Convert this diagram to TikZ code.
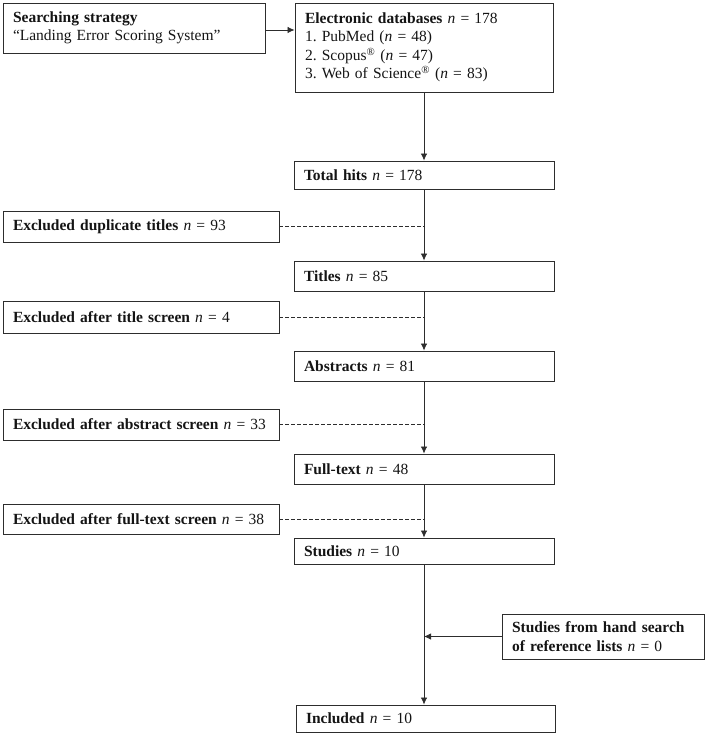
\documentclass[tikz,border=0pt]{standalone}
\usepackage{fontspec}
\setmainfont{Liberation Serif}
\frenchspacing
\usetikzlibrary{arrows.meta}
\definecolor{linecol}{RGB}{45,45,45}
\definecolor{txtcol}{RGB}{20,20,20}
\begin{document}
\begin{tikzpicture}[x=1pt,y=-1pt,
  box/.style={draw=linecol, line width=0.9pt, inner xsep=10pt, inner ysep=0pt,
    align=left, font=\fontsize{15.5}{18.5}\selectfont\frenchspacing, text=txtcol, anchor=center},
  mainbox/.style={box, text width=240pt},
  exbox/.style={box, text width=256pt},
  conn/.style={draw=linecol, line width=0.8pt, -{Latex[length=7pt,width=6.5pt]}},
  dashconn/.style={draw=linecol, line width=0.8pt, dash pattern=on 3.5pt off 2.5pt}
]
\useasboundingbox (0,0) rectangle (707,735);

\node[box, text width=242pt, minimum height=50pt] (search) at (134,28)
  {\textbf{Searching strategy}\\``Landing Error Scoring System''};
\node[box, text width=238pt, minimum height=89pt] (elec) at (424,47.5)
  {\textbf{Electronic databases} \textit{n} = 178\\
   1. PubMed (\textit{n} = 48)\\
   2. Scopus\textsuperscript{\textregistered} (\textit{n} = 47)\\
   3. Web of Science\textsuperscript{\textregistered} (\textit{n} = 83)};
\node[mainbox, minimum height=28pt] (total) at (424,175) {\textbf{Total hits} \textit{n} = 178};
\node[exbox, minimum height=31pt] (dup) at (141,226.5) {\mbox{\textbf{Excluded duplicate titles} \textit{n} = 93}};
\node[mainbox, minimum height=30pt] (titles) at (424,276) {\textbf{Titles} \textit{n} = 85};
\node[exbox, minimum height=32pt] (extitle) at (141,317) {\mbox{\textbf{Excluded after title screen} \textit{n} = 4}};
\node[mainbox, minimum height=30pt] (abstracts) at (424,366) {\textbf{Abstracts} \textit{n} = 81};
\node[exbox, minimum height=31pt] (exabs) at (141,424.5) {\mbox{\textbf{Excluded after abstract screen} \textit{n} = 33}};
\node[mainbox, minimum height=30pt] (full) at (424,469) {\textbf{Full-text} \textit{n} = 48};
\node[exbox, minimum height=30pt] (exfull) at (141,519) {\mbox{\textbf{Excluded after full-text screen} \textit{n} = 38}};
\node[mainbox, minimum height=26pt] (studies) at (424,551) {\textbf{Studies} \textit{n} = 10};
\node[box, text width=182pt, minimum height=45pt] (hand) at (603,636.5)
  {\textbf{Studies from hand search}\\\textbf{of reference lists} \textit{n} = 0};
\node[box, text width=239pt, minimum height=27pt] (included) at (425.5,718.5) {\textbf{Included} \textit{n} = 10};

\draw[conn] (search.east |- 0,30) -- (elec.west |- 0,30);
\draw[conn] (elec.south) -- (total.north);
\draw[conn] (total.south) -- (titles.north);
\draw[conn] (titles.south) -- (abstracts.north);
\draw[conn] (abstracts.south) -- (full.north);
\draw[conn] (full.south) -- (studies.north);
\draw[conn] (studies.south) -- (studies.south |- included.north);
\draw[conn] (hand.west) -- (hand.west -| studies.south);

\draw[dashconn] (dup.east) -- (dup.east -| total.south);
\draw[dashconn] (extitle.east) -- (extitle.east -| titles.south);
\draw[dashconn] (exabs.east) -- (exabs.east -| abstracts.south);
\draw[dashconn] (exfull.east) -- (exfull.east -| full.south);
\end{tikzpicture}
\end{document}
